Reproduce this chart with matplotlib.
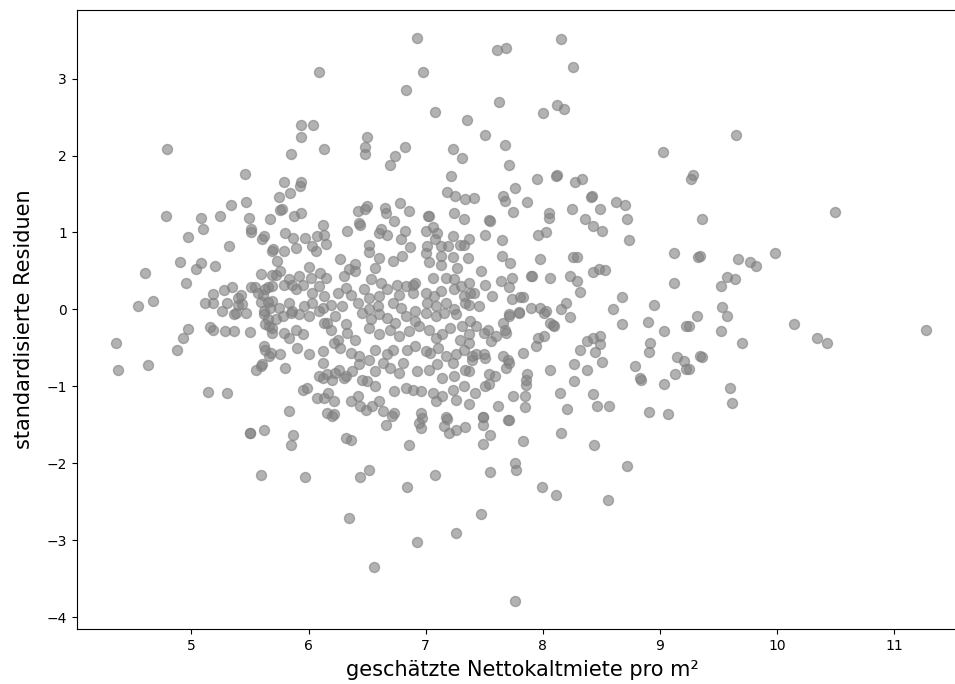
import matplotlib
matplotlib.use("Agg")
import matplotlib.pyplot as plt

# geschätzte Nettokaltmiete (x) und standardisierte Residuen (y), abgelesen
# oberer Bereich
x_oben = [6.09, 5.94, 6.04, 5.94, 6.13, 4.79, 5.85, 5.46, 5.79, 5.94, 5.93, 5.84, 5.75, 5.47,
          5.34, 5.76, 5.77, 5.24, 4.78, 5.08, 5.49, 5.67, 5.88, 5.94, 6.42,
          6.93, 6.98, 6.83, 7.08, 7.35, 7.61, 7.69, 7.63, 8.16, 8.26, 8.00, 8.12, 8.18,
          6.50, 6.48, 6.48, 6.82, 6.74, 6.70, 7.23, 7.31, 7.51, 7.68, 7.71, 7.22, 7.76,
          7.95, 8.11, 8.12, 8.28, 8.34, 8.41, 8.42, 8.63, 8.70, 7.18, 7.25, 7.34, 7.41,
          7.66, 7.68, 7.87, 7.75, 8.25, 8.49, 8.05, 8.05, 8.36, 8.72, 6.50, 6.48, 6.65,
          6.66, 6.78, 6.86, 7.02, 7.03, 7.24, 7.33, 7.54,
          9.65, 9.03, 9.28, 9.27, 10.50, 9.36]
y_oben = [3.08, 2.40, 2.40, 2.24, 2.09, 2.09, 2.02, 1.76, 1.66, 1.65, 1.61, 1.51, 1.46, 1.40,
          1.36, 1.29, 1.30, 1.22, 1.22, 1.19, 1.19, 1.18, 1.22, 1.25, 1.28,
          3.52, 3.09, 2.85, 2.57, 2.46, 3.37, 3.40, 2.69, 3.51, 3.15, 2.55, 2.66, 2.60,
          2.24, 2.11, 2.02, 2.11, 1.99, 1.88, 2.08, 1.97, 2.26, 2.13, 1.88, 1.74, 1.58,
          1.69, 1.73, 1.75, 1.66, 1.70, 1.46, 1.48, 1.39, 1.36, 1.52, 1.47, 1.43, 1.45,
          1.47, 1.41, 1.39, 1.27, 1.31, 1.30, 1.25, 1.19, 1.18, 1.18, 1.34, 1.30, 1.32,
          1.25, 1.38, 1.28, 1.22, 1.21, 1.25, 1.18, 1.16,
          2.27, 2.04, 1.75, 1.70, 1.26, 1.18]

# linker Bereich um 0
x_links = [4.60, 4.95, 4.90, 5.04, 5.08, 5.20, 4.97, 5.10, 5.32, 5.51, 5.51, 5.60, 5.62, 5.69,
           5.59, 5.69, 4.54, 4.67, 5.12, 5.18, 5.18, 5.28, 5.35, 5.30, 5.40, 5.42, 5.40,
           5.43, 5.51, 5.54, 5.57, 5.61, 5.63, 5.65, 5.59, 5.65, 5.67, 5.62, 5.26, 5.47, 5.38,
           4.36, 4.37, 4.63, 4.97, 4.93, 4.88, 5.14, 5.30, 5.16, 5.18, 5.29, 5.36, 5.50,
           5.36, 5.62, 5.65, 5.63, 5.66, 5.69, 5.62, 5.63, 5.66, 5.59, 5.55, 5.60]
y_links = [0.48, 0.34, 0.62, 0.53, 0.60, 0.57, 0.94, 1.05, 0.83, 1.04, 1.01, 0.92, 0.95, 0.76,
           0.46, 0.45, 0.05, 0.11, 0.08, 0.09, 0.20, 0.25, 0.29, 0.08, 0.15, 0.19, 0.06,
           0.07, 0.29, 0.29, 0.21, 0.19, 0.26, 0.29, 0.10, 0.10, 0.02, -0.02, -0.02, -0.04, -0.04,
           -0.43, -0.79, -0.72, -0.25, -0.37, -0.52, -1.07, -1.08, -0.23, -0.27, -0.28, -0.28, -0.29,
           -0.06, -0.06, -0.13, -0.19, -0.22, -0.30, -0.48, -0.52, -0.61, -0.74, -0.78, -0.71]

# dichter Kern, positive Residuen
x_kern_pos = [6.43, 6.44, 6.73, 6.12, 5.80, 5.87, 5.97, 6.07, 6.13, 6.33, 6.52, 6.60, 6.67, 6.62,
              6.82, 6.79, 6.87, 7.00, 7.06, 7.10, 7.08, 7.01, 7.13, 7.23, 7.29, 7.37, 7.33, 7.19,
              5.70, 5.79, 5.89, 6.03, 6.06, 6.15, 6.27, 6.40, 6.52, 6.60, 6.72, 6.80, 7.00, 7.03,
              7.13, 7.13, 7.23, 7.36, 5.73, 5.76, 5.72, 5.83, 5.92, 6.00, 6.02, 6.10, 6.15, 6.30,
              6.35, 6.40, 6.53, 6.57, 6.62, 6.76, 6.83, 6.89, 6.91, 7.06, 7.17, 7.24, 7.27, 7.30,
              7.37, 5.69, 5.79, 5.86, 5.89, 5.95, 6.03, 6.09, 6.13, 6.25, 6.32, 6.36, 6.47, 6.52,
              6.60, 6.67, 6.77, 6.89, 7.00, 7.07, 7.13, 7.24, 7.33, 7.38, 5.69, 5.75, 5.83, 5.86,
              5.96, 6.03, 6.12, 6.19, 6.29, 6.42, 6.52, 6.59, 6.72, 6.79, 6.91, 7.01, 7.09, 7.17,
              7.24, 7.34]
y_kern_pos = [1.12, 1.10, 1.15, 1.10, 0.99, 0.93, 0.93, 0.95, 0.97, 1.02, 0.84, 0.99, 0.97, 1.04,
              1.02, 0.91, 0.81, 1.02, 1.07, 0.99, 0.91, 0.82, 0.82, 0.95, 0.84, 0.91, 0.84, 0.82,
              0.78, 0.76, 0.80, 0.82, 0.76, 0.85, 0.66, 0.59, 0.75, 0.67, 0.63, 0.69, 0.73, 0.62,
              0.69, 0.58, 0.68, 0.67, 0.63, 0.50, 0.45, 0.39, 0.43, 0.55, 0.41, 0.48, 0.41, 0.43,
              0.52, 0.50, 0.39, 0.54, 0.35, 0.32, 0.30, 0.32, 0.35, 0.41, 0.41, 0.39, 0.54, 0.30,
              0.35, 0.30, 0.32, 0.32, 0.26, 0.32, 0.22, 0.30, 0.17, 0.22, 0.28, 0.19, 0.26, 0.15,
              0.17, 0.26, 0.19, 0.22, 0.22, 0.17, 0.24, 0.26, 0.17, 0.22, 0.11, 0.02, 0.09, -0.02,
              0.04, 0.09, 0.02, 0.06, 0.04, 0.09, 0.00, 0.04, 0.09, 0.02, -0.02, 0.09, 0.04, 0.09,
              0.00, 0.09]

# dichter Kern, negative Residuen
x_kern_neg = [5.72, 5.78, 5.85, 5.92, 6.00, 6.09, 6.16, 6.23, 6.32, 6.46, 6.53, 6.60, 6.67, 6.74,
              6.83, 6.91, 7.00, 7.09, 7.16, 7.26, 7.31, 7.38, 5.69, 5.79, 5.83, 5.89, 5.95, 6.13,
              6.19, 6.25, 6.33, 6.40, 6.52, 6.60, 6.70, 6.77, 6.86, 6.94, 7.03, 7.09, 7.14, 7.21,
              7.29, 7.37, 5.68, 5.76, 5.90, 6.00, 6.12, 6.22, 6.27, 6.36, 6.43, 6.52, 6.57, 6.67,
              6.72, 6.84, 6.91, 7.00, 7.04, 7.11, 7.17, 7.26, 7.33, 7.40, 5.80, 6.12, 6.16, 6.23,
              6.26, 6.32, 6.37, 6.43, 6.57, 6.64, 6.70, 6.77, 6.81, 6.93, 7.03, 7.10, 7.14, 7.23,
              7.24, 7.34, 5.95, 5.99, 6.09, 6.12, 6.20, 6.30, 6.46, 6.50, 6.57, 6.73, 6.83, 6.89,
              6.96, 7.06, 7.14, 7.23, 7.33, 6.07, 6.13, 6.17, 6.22, 6.36, 6.42, 6.44, 6.49, 6.54,
              6.60, 6.64, 6.73, 6.96, 6.97, 7.09, 7.17, 7.26, 7.37, 5.83, 6.16, 6.22]
y_kern_neg = [-0.13, -0.09, -0.04, -0.06, -0.09, -0.02, -0.17, -0.09, -0.19, -0.04, -0.13, -0.06,
              -0.11, -0.17, -0.09, -0.15, -0.04, -0.09, -0.04, -0.06, -0.22, -0.15, -0.24, -0.30,
              -0.37, -0.26, -0.32, -0.17, -0.26, -0.39, -0.30, -0.39, -0.24, -0.32, -0.26, -0.35,
              -0.28, -0.22, -0.26, -0.37, -0.32, -0.24, -0.39, -0.32, -0.56, -0.58, -0.50, -0.58,
              -0.54, -0.43, -0.50, -0.56, -0.61, -0.65, -0.52, -0.58, -0.52, -0.52, -0.48, -0.54,
              -0.56, -0.50, -0.61, -0.58, -0.52, -0.61, -0.76, -0.69, -0.84, -0.82, -0.78, -0.87,
              -0.80, -0.71, -0.80, -0.69, -0.76, -0.82, -0.69, -0.80, -0.78, -0.71, -0.89, -0.69,
              -0.87, -0.78, -1.04, -1.02, -0.87, -0.89, -0.91, -0.89, -0.91, -0.93, -1.00, -1.06,
              -1.02, -1.04, -1.06, -1.08, -1.13, -1.04, -1.00, -1.15, -1.15, -1.08, -1.19, -1.19,
              -1.13, -1.26, -1.30, -1.26, -1.19, -1.32, -1.34, -1.34, -1.41, -1.19, -1.39, -1.17,
              -1.23, -1.32, -1.34, -1.36]

# rechter Bereich
x_rechts = [7.55, 7.51, 7.65, 7.96, 8.03, 8.43, 8.51, 8.74, 7.65, 7.72, 7.98, 8.26, 8.29, 9.12,
            9.33, 9.34, 7.47, 7.74, 7.90, 7.91, 8.06, 8.23, 8.29, 8.43, 8.48, 8.53, 9.12, 7.51,
            7.64, 7.71, 7.41, 7.57, 7.74, 7.81, 7.83, 8.32, 8.68, 8.20, 8.95, 7.46, 7.90, 7.98,
            8.03, 8.16, 8.60, 7.37, 7.71, 7.80,
            7.71, 7.80, 8.01, 8.23, 7.43, 7.53, 7.50, 7.66, 7.69, 7.68, 7.56, 7.60, 8.06, 8.10,
            8.09, 8.01, 7.96, 7.94, 8.68, 8.90, 9.04, 9.22, 7.37, 7.43, 7.50, 7.51, 7.40, 7.66,
            7.70, 7.71, 7.69, 7.83, 8.32, 8.38, 8.43, 8.49, 8.49, 8.45, 8.51, 8.27, 8.38, 8.92,
            8.91, 9.15, 9.21, 9.22, 9.13, 9.34, 8.79, 8.83, 8.84, 9.04, 7.37, 7.54, 7.59, 7.87,
            7.86, 7.86, 8.06, 7.51, 7.54, 7.42, 8.27, 8.15, 8.43, 7.75, 7.85, 7.85, 7.62, 8.21,
            8.46, 8.57, 8.91, 9.07, 7.49, 7.71,
            9.98, 9.67, 9.77, 9.82, 9.57, 9.64, 9.52, 9.53, 9.57, 9.32, 9.25, 9.52, 9.70, 9.36,
            9.25, 10.15, 10.34, 10.43, 11.27, 9.60, 9.62]
y_rechts = [1.15, 0.97, 0.90, 0.97, 1.01, 1.09, 1.02, 0.90, 0.70, 0.60, 0.66, 0.68, 0.68, 0.73,
            0.68, 0.70, 0.50, 0.41, 0.43, 0.43, 0.41, 0.44, 0.37, 0.49, 0.53, 0.51, 0.34, 0.32,
            0.37, 0.29, 0.22, 0.18, 0.14, 0.16, 0.16, 0.23, 0.16, 0.09, 0.06, 0.04, 0.02, 0.02,
            -0.02, 0.00, 0.00, 0.06, -0.06, -0.03,
            -0.08, -0.04, -0.04, -0.10, -0.22, -0.26, -0.30, -0.17, -0.30, -0.26, -0.41, -0.35,
            -0.17, -0.22, -0.20, -0.34, -0.37, -0.47, -0.19, -0.16, -0.28, -0.22, -0.43, -0.58,
            -0.58, -0.63, -0.65, -0.61, -0.65, -0.69, -0.76, -0.57, -0.53, -0.41, -0.37, -0.34,
            -0.45, -0.55, -0.68, -0.71, -0.79, -0.43, -0.55, -0.62, -0.67, -0.77, -0.84, -0.61,
            -0.73, -0.89, -0.91, -0.97, -0.80, -0.84, -0.87, -0.84, -0.91, -0.98, -0.78, -1.00,
            -0.97, -1.08, -0.93, -1.08, -1.10, -1.13, -1.13, -1.27, -1.25, -1.29, -1.25, -1.26,
            -1.33, -1.36, -1.39, -1.43,
            0.73, 0.65, 0.62, 0.57, 0.42, 0.40, 0.31, 0.03, -0.09, -0.08, -0.22, -0.28, -0.43,
            -0.62, -0.77, -0.19, -0.37, -0.44, -0.26, -1.02, -1.22]

# unterer Bereich
x_unten = [5.50, 5.50, 5.62, 5.87, 5.85, 6.20, 6.32, 6.36, 6.66, 6.71, 6.94, 6.96, 6.86, 7.18,
           7.16, 7.20, 7.26, 7.34, 7.49, 7.49, 7.49, 7.55, 7.70, 5.59, 5.97, 6.44, 6.52, 6.84,
           7.08, 7.55, 6.35, 7.47, 7.26, 6.93, 6.56,
           7.83, 8.16, 8.44, 7.76, 7.77, 8.72, 7.99, 8.11, 8.56, 7.76]
y_unten = [-1.60, -1.61, -1.57, -1.63, -1.76, -1.38, -1.67, -1.69, -1.50, -1.38, -1.48, -1.54,
           -1.76, -1.42, -1.51, -1.61, -1.56, -1.53, -1.40, -1.50, -1.75, -1.63, -1.44, -2.15,
           -2.17, -2.17, -2.08, -2.31, -2.15, -2.11, -2.71, -2.66, -2.90, -3.02, -3.35,
           -1.71, -1.60, -1.76, -2.00, -2.09, -2.03, -2.31, -2.41, -2.48, -3.78]

x_werte = x_oben + x_links + x_kern_pos + x_kern_neg + x_rechts + x_unten
y_werte = y_oben + y_links + y_kern_pos + y_kern_neg + y_rechts + y_unten

fig = plt.figure(figsize=(9.55, 6.84), dpi=100)
# Achse reicht rechts etwas über den Bildrand hinaus (wie im Original abgeschnitten)
ax = fig.add_axes([0.0803, 0.0804, 0.933, 0.905])
ax.scatter(x_werte, y_werte, s=52, color="grey", alpha=0.6)
ax.set_xlim(4.02, 11.63)
ax.set_ylim(-4.15, 3.89)
ax.set_xlabel("geschätzte Nettokaltmiete pro m²", fontsize=15, labelpad=5)
ax.set_ylabel("standardisierte Residuen", fontsize=15, labelpad=9)

fig.savefig("out.png", dpi=100)
